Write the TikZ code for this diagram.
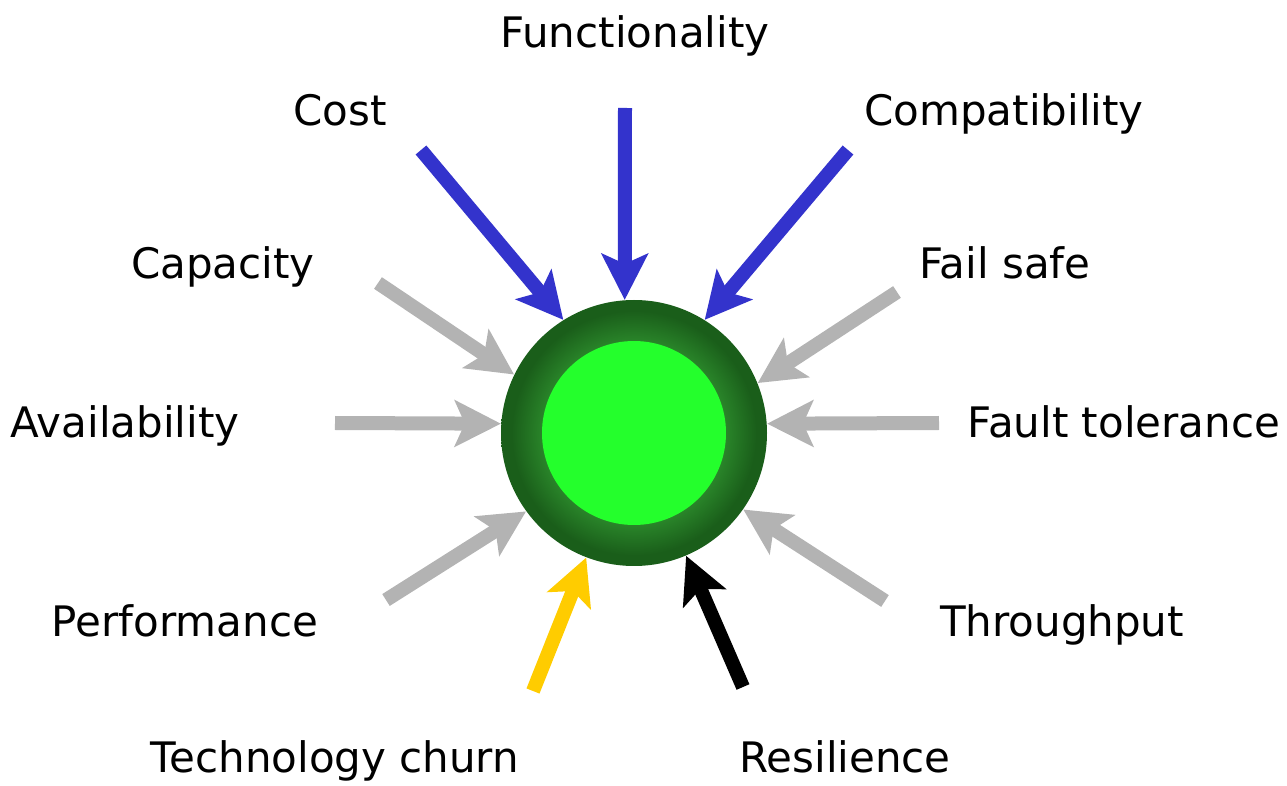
\documentclass[tikz,border=0pt]{standalone}
\usepackage{fontspec}
\setmainfont{DejaVu Sans}
\usetikzlibrary{arrows.meta}
\definecolor{forceBlue}{RGB}{51,51,204}
\definecolor{forceGray}{RGB}{179,179,179}
\definecolor{forceGold}{RGB}{255,204,0}
\definecolor{ringDark}{RGB}{26,94,26}
\definecolor{ringLight}{RGB}{42,134,42}
\definecolor{coreGreen}{RGB}{36,255,44}
\pgfdeclareradialshading{ringshade}{\pgfpoint{0bp}{0bp}}{color(0bp)=(ringLight); color(17bp)=(ringLight); color(23bp)=(ringDark); color(50bp)=(ringDark)}
\tikzset{mlabel/.style={anchor=base,inner sep=0pt,font=\fontsize{21}{25}\selectfont}}
\tikzset{mforce/.style={line width=7pt,-{Stealth[length=23pt,width=23pt,inset=5pt]}}}
\begin{document}
\begin{tikzpicture}[x=0.5pt,y=-0.5pt]
\useasboundingbox (0,0) rectangle (1287,786);
\node[circle,minimum size=133pt,inner sep=0pt,shading=ringshade] (hub) at (634,433) {};
\node[circle,minimum size=92pt,inner sep=0pt,fill=coreGreen] (core) at (634,433) {};

\node[mlabel] (func) at (635,48) {Functionality};
\node[mlabel] (cost) at (340,126) {Cost};
\node[mlabel] (compat) at (1004,126) {Compatibility};
\node[mlabel] (capac) at (223,279) {Capacity};
\node[mlabel] (failsafe) at (1005,279) {Fail safe};
\node[mlabel] (avail) at (125,438) {Availability};
\node[mlabel] (faulttol) at (1124,438) {Fault tolerance};
\node[mlabel] (perf) at (185,636) {Performance};
\node[mlabel] (thru) at (1062,636) {Throughput};
\node[mlabel] (churn) at (335,772) {Technology churn};
\node[mlabel] (resil) at (845,772) {Resilience};

\coordinate (funcTail) at (625,108);
\coordinate (costTail) at (421,150);
\coordinate (compatTail) at (848,150);
\coordinate (capacTail) at (378,283);
\coordinate (failsafeTail) at (897,292);
\coordinate (availTail) at (335,423);
\coordinate (faulttolTail) at (939,423);
\coordinate (perfTail) at (386,600);
\coordinate (thruTail) at (885,601);
\coordinate (churnTail) at (533,691);
\coordinate (resilTail) at (743,687);

\draw[mforce,forceBlue] (funcTail) -- (hub.94);
\draw[mforce,forceBlue] (costTail) -- (hub.122);
\draw[mforce,forceBlue] (compatTail) -- (hub.58);
\draw[mforce,forceGray] (capacTail) -- (hub.154);
\draw[mforce,forceGray] (failsafeTail) -- (hub.22);
\draw[mforce,forceGray] (availTail) -- (hub.176);
\draw[mforce,forceGray] (faulttolTail) -- (hub.4);
\draw[mforce,forceGray] (perfTail) -- (hub.216);
\draw[mforce,forceGray] (thruTail) -- (hub.325);
\draw[mforce,forceGold] (churnTail) -- (hub.249);
\draw[mforce,black] (resilTail) -- (hub.293);

\end{tikzpicture}
\end{document}
